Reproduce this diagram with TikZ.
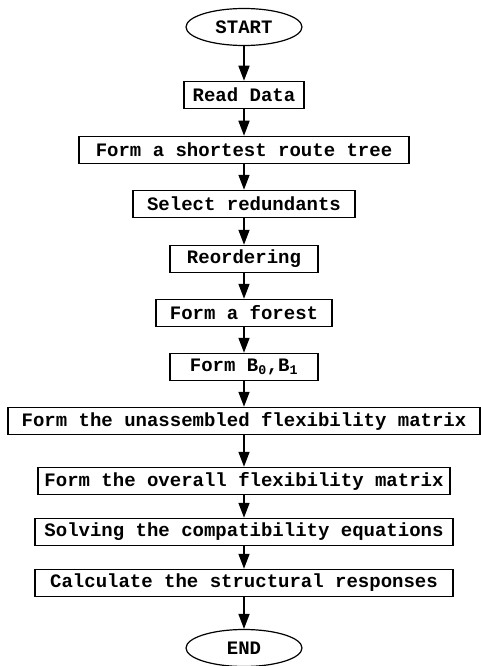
\documentclass[tikz,border=0pt]{standalone}
\usepackage{fontspec}
\setmonofont{Liberation Mono}
\usetikzlibrary{shapes.geometric,arrows.meta}

\newcommand{\flowfont}{\ttfamily\bfseries\fontsize{19}{20}\selectfont}

\tikzset{
    stepbox/.style={draw, line width=1.5pt, minimum height=27pt, inner sep=0pt, font=\flowfont},
    terminal/.style={ellipse, draw, line width=1.2pt, minimum width=116pt, minimum height=37pt, inner sep=0pt, font=\flowfont},
    flow/.style={line width=1.6pt, -{Triangle[width=11pt,length=15pt]}}
}

\begin{document}
\begin{tikzpicture}[x=1pt, y=1pt]
    % Fix the page size
    \useasboundingbox (0,0) rectangle (481,-666);

    % Start and end of the chart
    \node[terminal] (start) at (244,-27) {START};
    \node[terminal] (end) at (244,-648) {END};

    % Place the steps
    \node[stepbox, minimum width=120pt] (read) at (244,-95) {Read Data};
    \node[stepbox, minimum width=330pt] (tree) at (244,-150) {Form a shortest route tree};
    \node[stepbox, minimum width=222pt] (select) at (244,-204) {Select redundants};
    \node[stepbox, minimum width=148pt] (reorder) at (244,-259) {Reordering};
    \node[stepbox, minimum width=176pt] (forest) at (244,-313) {Form a forest};
    \node[stepbox, minimum width=148pt] (bmat) at (244,-367) {Form B\textsubscript{0},B\textsubscript{1}};
    \node[stepbox, minimum width=472pt] (unflex) at (244,-421) {Form the unassembled flexibility matrix};
    \node[stepbox, minimum width=412pt] (flex) at (244,-481) {Form the overall flexibility matrix};
    \node[stepbox, minimum width=418pt] (solve) at (244,-532) {Solving the compatibility equations};
    \node[stepbox, minimum width=418pt] (calc) at (244,-583) {Calculate the structural responses};

    % Draw the arrows
    \foreach \a/\b in {start/read, read/tree, tree/select, select/reorder, reorder/forest,
                       forest/bmat, bmat/unflex, unflex/flex, flex/solve, solve/calc, calc/end}
        \draw[flow] (\a) -- (\b);

\end{tikzpicture}
\end{document}
